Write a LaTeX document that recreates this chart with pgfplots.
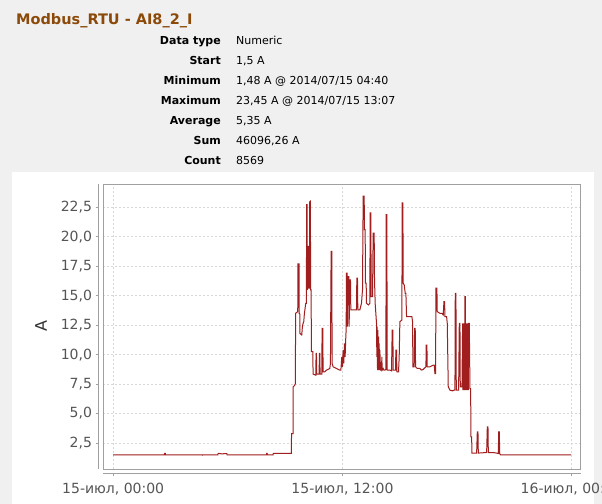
\documentclass[border=0pt]{standalone}
\usepackage{pgfplots}
\pgfplotsset{compat=1.18}
\usepackage{fontspec}
\setmainfont{DejaVu Sans}
\definecolor{bggray}{RGB}{240,240,240}
\definecolor{titlebrown}{RGB}{140,74,10}
\definecolor{linered}{RGB}{160,30,30}
\definecolor{framegray}{RGB}{160,160,160}
\definecolor{ticktext}{RGB}{85,85,85}
\definecolor{gridgray}{RGB}{215,215,215}
\begin{document}
\begin{tikzpicture}
\path[use as bounding box] (0,0) rectangle (602bp,-504bp);
\clip (0,0) rectangle (602bp,-504bp);
\fill[bggray] (0,0) rectangle (602bp,-504bp);
\fill[white] (12bp,-172bp) rectangle (594bp,-504bp);
\node[anchor=base west, inner sep=0, font=\fontsize{14.5bp}{16bp}\selectfont\bfseries, text=titlebrown] at (16bp,-24bp) {Modbus\_RTU - AI8\_2\_I};
\begin{scope}[every node/.style={inner sep=0, font=\fontsize{11bp}{13bp}\selectfont, text=black}]
\node[anchor=base east, font=\fontsize{11bp}{13bp}\selectfont\bfseries] at (221bp,-44bp) {Data type};
\node[anchor=base west] at (236bp,-44bp) {Numeric};
\node[anchor=base east, font=\fontsize{11bp}{13bp}\selectfont\bfseries] at (221bp,-64bp) {Start};
\node[anchor=base west] at (236bp,-64bp) {1,5 A};
\node[anchor=base east, font=\fontsize{11bp}{13bp}\selectfont\bfseries] at (221bp,-84bp) {Minimum};
\node[anchor=base west] at (236bp,-84bp) {1,48 A @ 2014/07/15 04:40};
\node[anchor=base east, font=\fontsize{11bp}{13bp}\selectfont\bfseries] at (221bp,-104bp) {Maximum};
\node[anchor=base west] at (236bp,-104bp) {23,45 A @ 2014/07/15 13:07};
\node[anchor=base east, font=\fontsize{11bp}{13bp}\selectfont\bfseries] at (221bp,-124bp) {Average};
\node[anchor=base west] at (236bp,-124bp) {5,35 A};
\node[anchor=base east, font=\fontsize{11bp}{13bp}\selectfont\bfseries] at (221bp,-144bp) {Sum};
\node[anchor=base west] at (236bp,-144bp) {46096,26 A};
\node[anchor=base east, font=\fontsize{11bp}{13bp}\selectfont\bfseries] at (221bp,-164bp) {Count};
\node[anchor=base west] at (236bp,-164bp) {8569};
\end{scope}
\begin{axis}[
  name=ax,
  at={(103bp,-469bp)}, anchor=south west,
  scale only axis, width=477.5bp, height=285bp,
  xmin=-0.534, xmax=24.46, ymin=0.3, ymax=24.48,
  axis x line*=bottom, axis y line*=left,
  axis x line shift=4bp, axis y line shift=4.5bp,
  axis line style={framegray, line width=1pt, -},
  tick align=outside, major tick length=3bp,
  tick style={framegray, line width=0.8pt},
  ytick={2.5,5,7.5,10,12.5,15,17.5,20,22.5},
  xtick={0,12,24},
  xticklabels={{15-июл, 00:00},{15-июл, 12:00},{16-июл, 00:00}},
  /pgf/number format/.cd, fixed, fixed zerofill, precision=1, use comma, assume math mode=true,
  /pgfplots/.cd,
  ticklabel style={font=\fontsize{14bp}{16bp}\selectfont, text=ticktext},
  xticklabel style={yshift=-3.5bp},
  grid=major,
  major grid style={gridgray, line width=0.8pt, dash pattern=on 2bp off 2bp},
  ylabel={A},
  every axis y label/.style={at={(rel axis cs:0,0.5)}, xshift=-62bp, rotate=90, anchor=center, font=\fontsize{16bp}{18bp}\selectfont, text=black!80},
]
\addplot[linered, line width=1bp, mark=none] coordinates {
(0,1.5)(2.68,1.5)(2.69,1.62)(2.73,1.62)(2.74,1.5)(4.66,1.5)(4.67,1.48)(4.68,1.5)
(5.48,1.5)(5.49,1.63)(5.62,1.6)(5.7,1.58)(5.8,1.6)(5.95,1.6)(5.96,1.5)
(8.02,1.5)(8.03,1.62)(8.06,1.62)(8.07,1.5)(8.37,1.5)(8.38,1.62)(9.32,1.62)
(9.336,3.30)(9.415,3.30)(9.424,7.27)(9.502,7.41)(9.537,7.55)(9.546,13.51)(9.659,13.65)(9.668,17.71)(9.729,17.71)(9.738,13.51)(9.764,13.51)(9.773,11.81)(9.869,11.67)(9.904,12.38)(9.939,12.66)(9.974,12.80)(10.009,13.51)(10.079,14.36)(10.114,14.36)(10.122,22.73)(10.149,22.73)(10.157,15.50)(10.183,15.78)(10.192,19.19)(10.218,19.19)(10.227,15.64)(10.271,15.64)(10.279,22.96)(10.323,23.02)(10.332,15.50)(10.358,15.50)(10.376,10.25)(10.446,10.25)(10.463,8.35)(10.603,8.26)(10.620,10.11)(10.638,10.11)(10.655,8.35)(10.777,8.35)(10.795,10.11)(10.812,10.11)(10.830,8.35)(10.917,8.35)(10.935,12.24)(10.970,12.24)(10.987,8.55)(11.074,8.55)(11.162,8.69)(11.337,8.83)(11.371,9.26)(11.406,18.76)(11.441,18.76)(11.459,9.26)(11.511,8.97)(11.686,8.83)(11.861,8.69)(11.913,8.69)(11.930,8.97)(11.965,9.82)(12.000,8.97)(12.035,10.39)(12.070,9.26)(12.105,10.96)(12.140,9.82)(12.175,11.53)(12.193,12.09)(12.210,16.92)(12.245,16.92)(12.262,12.38)(12.297,16.63)(12.332,16.63)(12.350,12.38)(12.385,16.35)(12.420,16.35)(12.437,13.80)(12.559,13.80)(12.647,13.80)(12.734,13.80)(12.752,16.49)(12.786,16.49)(12.804,13.80)(12.909,13.80)(12.996,14.36)(13.049,15.50)(13.084,23.45)(13.136,23.45)(13.153,20.60)(13.188,20.60)(13.206,16.06)(13.241,16.06)(13.258,14.36)(13.363,14.22)(13.433,14.36)(13.450,22.02)(13.485,22.02)(13.503,14.93)(13.573,14.93)(13.608,20.32)(13.660,20.32)(13.678,16.35)(13.712,14.36)(13.747,13.51)(13.782,12.66)(13.800,9.82)(13.817,12.38)(13.835,8.69)(13.852,12.09)(13.870,8.83)(13.887,11.53)(13.905,8.69)(13.922,10.96)(13.940,8.69)(13.957,10.39)(13.992,8.69)(14.044,8.69)(14.062,9.82)(14.079,8.69)(14.132,8.83)(14.167,8.69)(14.219,8.69)(14.272,8.75)(14.289,21.88)(14.324,21.88)(14.341,8.69)(14.481,8.69)(14.568,8.63)(14.603,12.09)(14.638,12.09)(14.656,8.69)(14.778,8.69)(14.796,10.39)(14.831,10.39)(14.848,8.55)(14.935,8.55)(14.970,9.82)(15.005,12.80)(15.110,12.94)(15.127,22.87)(15.162,22.87)(15.180,16.06)(15.232,15.92)(15.285,15.21)(15.320,15.21)(15.355,13.23)(15.529,13.23)(15.634,13.23)(15.669,12.80)(15.687,8.97)(15.756,8.97)(15.774,12.24)(15.809,12.24)(15.826,8.97)(15.914,8.83)(16.053,8.83)(16.141,8.69)(16.228,8.75)(16.368,8.97)(16.385,10.82)(16.420,10.82)(16.438,8.97)(16.578,8.97)(16.752,9.11)(16.805,9.11)(16.840,8.40)(16.875,8.40)(16.892,15.64)(16.944,15.64)(16.962,13.65)(17.102,13.51)(17.206,13.51)(17.276,13.37)(17.311,14.50)(17.346,14.50)(17.364,13.23)(17.451,13.23)(17.486,12.66)(17.538,7.27)(17.626,6.99)(17.766,6.93)(17.835,6.99)(17.888,6.99)(17.905,15.21)(17.940,15.21)(17.958,6.99)(18.080,6.99)(18.115,12.66)(18.150,12.66)(18.167,7.27)(18.255,7.27)(18.290,12.66)(18.307,6.99)(18.342,12.66)(18.360,6.99)(18.377,12.66)(18.395,6.99)(18.412,14.93)(18.429,14.93)(18.447,6.99)(18.464,12.66)(18.482,6.99)(18.499,12.66)(18.517,6.99)(18.534,12.66)(18.552,6.99)(18.569,12.66)(18.587,6.99)(18.604,12.66)(18.639,12.66)(18.674,7.13)(18.709,7.13)(18.726,3.02)(18.761,3.02)(18.779,1.65)(19.023,1.65)(19.058,3.44)(19.093,3.44)(19.111,1.65)(19.547,1.7)(19.582,3.87)(19.617,3.87)(19.635,1.7)(19.897,1.7)(20.159,1.62)(20.176,3.44)(20.211,3.44)(20.229,1.6)(20.281,1.5)(23.967,1.5)
};
\end{axis}
\draw[framegray, line width=1pt] (ax.south west) rectangle (ax.north east);
\end{tikzpicture}
\end{document}
